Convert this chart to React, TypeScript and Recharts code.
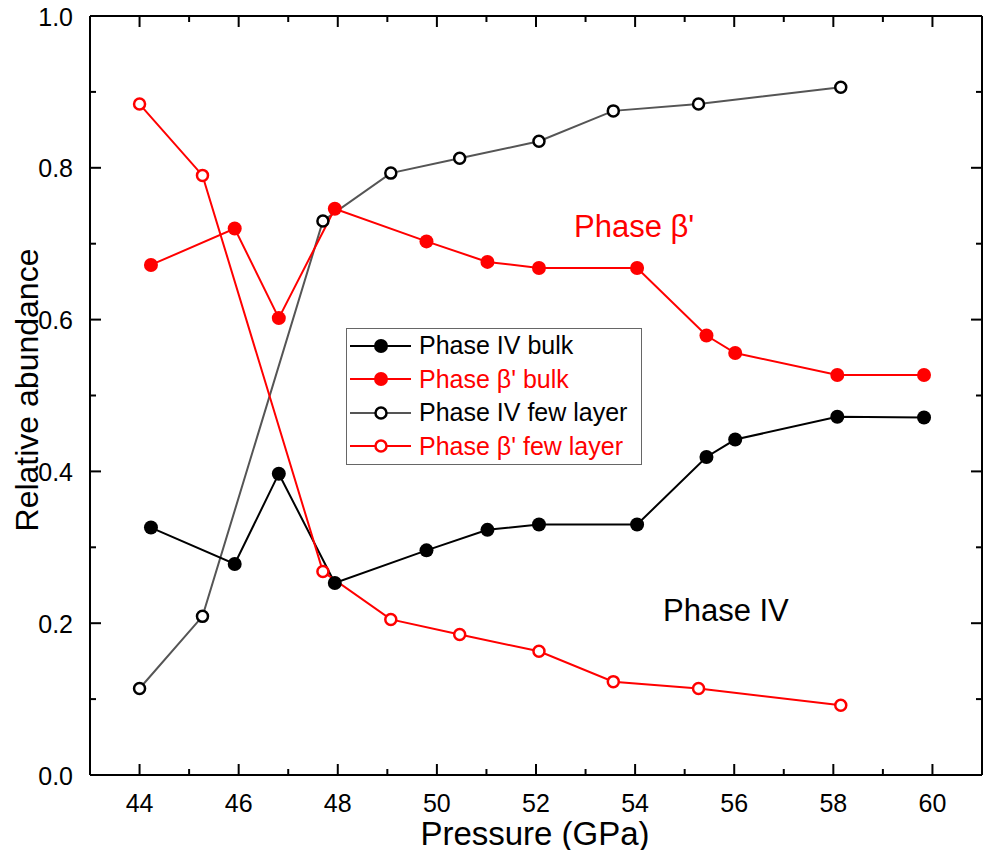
import React from "react"
import { LineChart, Line, XAxis, YAxis, Legend } from "recharts"

// pressures (GPa)
const bulkPressure = [44.23, 45.92, 46.81, 47.94, 49.79, 51.02, 52.06, 54.04, 55.44, 56.02, 58.08, 59.83]
const fewPressure = [44.0, 45.27, 47.7, 49.07, 50.46, 52.06, 53.56, 55.28, 58.15]

// relative abundance
const ivBulk = [0.326, 0.278, 0.397, 0.253, 0.296, 0.323, 0.33, 0.33, 0.419, 0.442, 0.472, 0.471]
const betaBulk = [0.672, 0.72, 0.602, 0.746, 0.703, 0.676, 0.668, 0.668, 0.579, 0.556, 0.527, 0.527]
const ivFew = [0.114, 0.209, 0.73, 0.793, 0.8125, 0.835, 0.875, 0.884, 0.906]
const betaFew = [0.884, 0.79, 0.268, 0.205, 0.185, 0.163, 0.123, 0.114, 0.092]

const xTicks = [44, 45, 46, 47, 48, 49, 50, 51, 52, 53, 54, 55, 56, 57, 58, 59, 60]
const yTicks = [0, 0.1, 0.2, 0.3, 0.4, 0.5, 0.6, 0.7, 0.8, 0.9, 1.0]

const seriesNames = ["Phase IV bulk", "Phase β' bulk", "Phase IV few layer", "Phase β' few layer"]

const RED = "#ff0000"
const FONT = "'Liberation Sans', Arial, sans-serif"

const zip = (xs: number[], ys: number[]) => xs.map((p, i) => ({ p, v: ys[i] }))

const isMajorX = (v: number) => Math.round(v) % 2 === 0
const isMajorY = (v: number) => Math.round(v * 10) % 2 === 0

const BottomTick = (props: any) => {
  const { x, y, payload } = props
  const major = isMajorX(payload.value)
  return (
    <g>
      <line x1={x} x2={x} y1={y} y2={y - (major ? 11 : 6)} stroke="#000" strokeWidth={2} />
      {major && (
        <text x={x} y={y + 36.5} textAnchor="middle" fontSize={25} fill="#000">
          {payload.value}
        </text>
      )}
    </g>
  )
}

const TopTick = (props: any) => {
  const { x, y, payload } = props
  const major = isMajorX(payload.value)
  return <line x1={x} x2={x} y1={y} y2={y + (major ? 11 : 6)} stroke="#000" strokeWidth={2} />
}

const LeftTick = (props: any) => {
  const { x, y, payload } = props
  const major = isMajorY(payload.value)
  return (
    <g>
      <line x1={x} x2={x + (major ? 11 : 6)} y1={y} y2={y} stroke="#000" strokeWidth={2} />
      {major && (
        <text x={x - 17} y={y + 9.5} textAnchor="end" fontSize={25} fill="#000">
          {Number(payload.value).toFixed(1)}
        </text>
      )}
    </g>
  )
}

const RightTick = (props: any) => {
  const { x, y, payload } = props
  const major = isMajorY(payload.value)
  return <line x1={x} x2={x - (major ? 11 : 6)} y1={y} y2={y} stroke="#000" strokeWidth={2} />
}

const legendStyles = [
  { line: "#000", fill: "#000", stroke: "#000", r: 7, sw: 0, text: "#000" },
  { line: RED, fill: RED, stroke: RED, r: 7, sw: 0, text: RED },
  { line: "#555", fill: "#fff", stroke: "#000", r: 5.5, sw: 2.5, text: "#000" },
  { line: RED, fill: "#fff", stroke: RED, r: 5.5, sw: 2.5, text: RED },
]

const LegendBox = () => (
  <div
    style={{
      width: 296,
      height: 137,
      boxSizing: "border-box",
      border: "1px solid #666",
      background: "#fff",
      fontFamily: FONT,
      fontSize: 25,
    }}
  >
    {seriesNames.map((name, i) => {
      const s = legendStyles[i]
      return (
        <div key={name} style={{ height: 33.5, display: "flex", alignItems: "center" }}>
          <svg width={70} height={20} style={{ flex: "none" }}>
            <line x1={3} x2={64} y1={10} y2={10} stroke={s.line} strokeWidth={2} />
            <circle cx={34} cy={10} r={s.r} fill={s.fill} stroke={s.stroke} strokeWidth={s.sw} />
          </svg>
          <span style={{ color: s.text, marginLeft: 2, whiteSpace: "nowrap" }}>{name}</span>
        </div>
      )
    })}
  </div>
)

const frameLine = { stroke: "#000", strokeWidth: 2 }

export default function App() {
  // negative margins cancel the body margin vertically so the svg spans the full page height
  return (
    <div style={{ width: 980, height: 858, marginTop: -8, marginBottom: -8, fontFamily: FONT, position: "relative" }}>
      <LineChart width={980} height={858} margin={{ top: 15, right: 5, bottom: 82, left: 81 }}>
        <XAxis
          xAxisId="b"
          type="number"
          dataKey="p"
          domain={[43, 61]}
          allowDataOverflow
          ticks={xTicks}
          interval={0}
          height={1}
          tickSize={0}
          tickMargin={0}
          tickLine={false}
          tick={<BottomTick />}
          axisLine={frameLine}
        />
        <XAxis
          xAxisId="t"
          orientation="top"
          type="number"
          dataKey="p"
          domain={[43, 61]}
          allowDataOverflow
          ticks={xTicks}
          interval={0}
          height={1}
          tickSize={0}
          tickMargin={0}
          tickLine={false}
          tick={<TopTick />}
          axisLine={frameLine}
        />
        <YAxis
          yAxisId="l"
          type="number"
          domain={[0, 1]}
          allowDataOverflow
          ticks={yTicks}
          interval={0}
          width={1}
          tickSize={0}
          tickMargin={0}
          tickLine={false}
          tick={<LeftTick />}
          axisLine={frameLine}
        />
        <YAxis
          yAxisId="r"
          orientation="right"
          type="number"
          domain={[0, 1]}
          allowDataOverflow
          ticks={yTicks}
          interval={0}
          width={1}
          tickSize={0}
          tickMargin={0}
          tickLine={false}
          tick={<RightTick />}
          axisLine={frameLine}
        />

        {/* keeps the mirrored top/right axes populated */}
        <Line
          xAxisId="t"
          yAxisId="r"
          data={zip(bulkPressure, ivBulk)}
          dataKey="v"
          stroke="none"
          dot={false}
          activeDot={false}
          legendType="none"
          isAnimationActive={false}
        />

        <Line
          xAxisId="b"
          yAxisId="l"
          name={seriesNames[2]}
          data={zip(fewPressure, ivFew)}
          dataKey="v"
          type="linear"
          stroke="#555"
          strokeWidth={2}
          dot={{ r: 5.5, fill: "#fff", stroke: "#000", strokeWidth: 2.5 }}
          isAnimationActive={false}
        />
        <Line
          xAxisId="b"
          yAxisId="l"
          name={seriesNames[0]}
          data={zip(bulkPressure, ivBulk)}
          dataKey="v"
          type="linear"
          stroke="#000"
          strokeWidth={2}
          dot={{ r: 7, fill: "#000", stroke: "#000", strokeWidth: 0 }}
          isAnimationActive={false}
        />
        <Line
          xAxisId="b"
          yAxisId="l"
          name={seriesNames[1]}
          data={zip(bulkPressure, betaBulk)}
          dataKey="v"
          type="linear"
          stroke={RED}
          strokeWidth={2}
          dot={{ r: 7, fill: RED, stroke: RED, strokeWidth: 0 }}
          isAnimationActive={false}
        />
        <Line
          xAxisId="b"
          yAxisId="l"
          name={seriesNames[3]}
          data={zip(fewPressure, betaFew)}
          dataKey="v"
          type="linear"
          stroke={RED}
          strokeWidth={2}
          dot={{ r: 5.5, fill: "#fff", stroke: RED, strokeWidth: 2.5 }}
          isAnimationActive={false}
        />

        <Legend
          layout="vertical"
          align="center"
          verticalAlign="middle"
          content={() => <LegendBox />}
          wrapperStyle={{ left: 338, top: 328, width: 296, height: 137 }}
        />

        <text x={527} y={845} textAnchor="middle" fontSize={33} fill="#000">
          Pressure (GPa)
        </text>
        <text x={30} y={390} textAnchor="middle" fontSize={32} fill="#000" transform="rotate(-90 30 390)">
          Relative abundance
        </text>
        <text x={566} y={237} fontSize={31} fill={RED}>
          Phase β'
        </text>
        <text x={655} y={621} fontSize={31} fill="#000">
          Phase IV
        </text>
      </LineChart>
    </div>
  )
}
